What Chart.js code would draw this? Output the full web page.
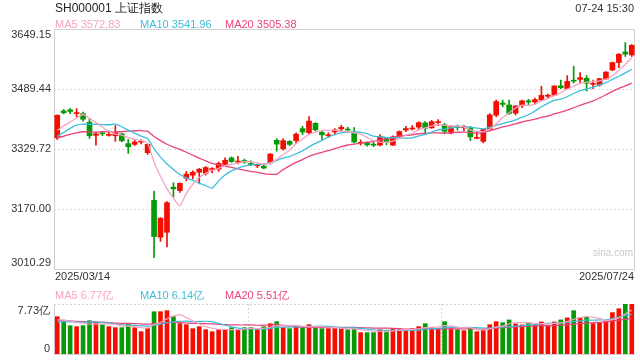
<!DOCTYPE html>
<html><head><meta charset="utf-8">
<script src="https://cdn.jsdelivr.net/npm/chart.js@4/dist/chart.umd.min.js"></script>
<style>
html,body{margin:0;padding:0;background:#fff;}
#wrap{position:relative;width:640px;height:360px;overflow:hidden;font-family:"Liberation Sans",Arial,sans-serif;}
canvas{position:absolute;left:0;top:0;}
.t{position:absolute;white-space:nowrap;font-size:11px;line-height:12px;}
</style></head><body>
<div id="wrap">
<canvas id="main" width="640" height="360"></canvas>
<canvas id="vol" width="640" height="360"></canvas>
<div class="t" style="left:55px;top:2px;font-size:12px;line-height:13px;color:#222">SH000001 上证指数</div>
<div class="t" style="right:6px;top:2px;color:#333">07-24 15:30</div>
<div class="t" id="l5" style="left:55px;top:18px;color:#f7a3c2"></div>
<div class="t" id="l10" style="left:140px;top:18px;color:#3cbfdc"></div>
<div class="t" id="l20" style="left:225px;top:18px;color:#e8447c"></div>
<div class="t" id="v5" style="left:55px;top:289px;color:#f7a3c2"></div>
<div class="t" id="v10" style="left:140px;top:289px;color:#3cbfdc"></div>
<div class="t" id="v20" style="left:225px;top:289px;color:#e8447c"></div>
<div class="t" style="right:7px;top:247px;font-size:10px;color:#c9c9c9">sina.com</div>
</div>
<script>
const dates = ["2025/03/14","2025/03/17","2025/03/18","2025/03/19","2025/03/20","2025/03/21","2025/03/24","2025/03/25","2025/03/26","2025/03/27","2025/03/28","2025/03/31",
"2025/04/01","2025/04/02","2025/04/03","2025/04/07","2025/04/08","2025/04/09","2025/04/10","2025/04/11","2025/04/14","2025/04/15","2025/04/16","2025/04/17","2025/04/18","2025/04/21","2025/04/22","2025/04/23","2025/04/24","2025/04/25","2025/04/28","2025/04/29","2025/04/30",
"2025/05/06","2025/05/07","2025/05/08","2025/05/09","2025/05/12","2025/05/13","2025/05/14","2025/05/15","2025/05/16","2025/05/19","2025/05/20","2025/05/21","2025/05/22","2025/05/23","2025/05/26","2025/05/27","2025/05/28","2025/05/29","2025/05/30",
"2025/06/03","2025/06/04","2025/06/05","2025/06/06","2025/06/09","2025/06/10","2025/06/11","2025/06/12","2025/06/13","2025/06/16","2025/06/17","2025/06/18","2025/06/19","2025/06/20","2025/06/23","2025/06/24","2025/06/25","2025/06/26","2025/06/27","2025/06/30",
"2025/07/01","2025/07/02","2025/07/03","2025/07/04","2025/07/07","2025/07/08","2025/07/09","2025/07/10","2025/07/11","2025/07/14","2025/07/15","2025/07/16","2025/07/17","2025/07/18","2025/07/21","2025/07/22","2025/07/23","2025/07/24"];

const openP = [3359.5,3431,3434,3424,3424,3401,3366,3372,3366,3365,3370,3344,3342,3348,3320,3193,3095,3108,3228,3219,
3252,3260,3268,3265,3275,3276,3289,3306,3295,3299,3291,3285,3284,3293,3353,3330,3350,3352,3384,3373,
3398,3374,3365,3375,3383,3382,3373,3345,3346,3342,3340,3358,3340,3362,3380,3383,3388,3399,3386,3400,
3394,3372,3390,3386,3386,3358,3350,3382,3420,3452,3447,3425,3446,3458,3455,3460,3470,3473,3498,3490,
3512,3515,3518,3502,3500,3516,3540,3560,3588,3580];
const highP = [3420.7,3435,3437,3437,3428,3409,3374,3376,3378,3392,3372,3355,3355,3354,3343,3218,3147,3190,3240,3240,
3270,3272,3278,3283,3280,3295,3306,3309,3310,3303,3298,3290,3290,3318,3357,3357,3352,3373,3390,3416,
3400,3377,3373,3384,3393,3388,3387,3354,3349,3348,3368,3360,3365,3378,3390,3392,3402,3403,3406,3408,
3398,3392,3394,3393,3390,3375,3383,3424,3460,3460,3460,3445,3460,3462,3465,3497,3476,3498,3513,3525,
3550,3533,3525,3513,3518,3536,3561,3584,3613,3608];
const lowP = [3355,3423,3424,3415,3404,3358,3340,3365,3364,3350,3349,3318,3339,3343,3315,3040.69,3084,3069,3202,3214,
3245,3250,3237,3260,3266,3270,3288,3294,3290,3292,3286,3280,3277,3290,3324,3327,3338,3345,3368,3369,
3378,3355,3360,3370,3378,3374,3346,3340,3337,3336,3338,3341,3339,3358,3376,3380,3380,3371,3385,3392,
3370,3370,3380,3378,3352,3357,3346,3380,3415,3442,3422,3420,3440,3448,3450,3458,3465,3472,3490,3490,
3505,3504,3484,3490,3497,3514,3538,3546,3576,3576];
const closeP = [3419.56,3426.13,3429.76,3426.43,3408.95,3364.83,3370.03,3369.98,3368.70,3373.75,3351.31,3335.75,3348.44,3350.13,3342.01,3096.58,3145.55,3186.81,3223.64,3238.23,
3262.81,3267.66,3276.00,3280.34,3276.73,3291.43,3299.76,3296.36,3297.29,3295.06,3288.41,3286.65,3279.03,3316.11,3342.67,3352.00,3342.00,3369.24,3374.87,3403.95,
3380.82,3367.46,3367.58,3380.48,3387.57,3380.19,3348.37,3346.84,3340.69,3339.93,3363.45,3347.49,3361.98,3376.20,3384.10,3385.36,3399.77,3384.82,3402.32,3402.66,
3377.00,3388.73,3386.96,3388.81,3362.11,3359.90,3381.58,3420.57,3455.97,3448.45,3424.23,3444.43,3457.75,3454.79,3461.15,3472.32,3473.13,3497.48,3493.05,3509.68,
3510.18,3519.65,3505.00,3503.78,3516.83,3534.48,3559.79,3581.86,3582.30,3605.73];
const prevCloses = [3355.83,3324.49,3351.54,3350.78,3379.11,3373.03,3346.04,3380.21,3388.06,3320.90,3316.93,3324.21,3341.96,3381.10,3372.55,3366.16,3379.83,3371.92,3358.73];

const volumes = [5.77,5.05,4.38,4.23,4.38,5.15,4.90,4.53,4.23,4.07,4.07,4.69,4.07,3.45,3.92,6.54,6.54,6.70,5.77,4.69,
4.53,3.92,4.23,3.76,3.45,3.76,3.76,4.07,3.76,4.07,4.07,3.76,4.23,4.69,5.00,4.07,3.92,4.38,4.07,4.53,4.23,
3.92,3.92,3.92,3.92,3.76,3.92,3.30,3.30,3.30,3.76,3.61,3.92,3.76,3.76,3.92,4.23,4.69,4.07,3.92,5.00,3.92,3.76,3.61,4.07,3.45,3.76,4.53,5.00,4.84,
5.27,4.65,4.50,4.81,4.50,4.96,4.35,4.96,5.27,5.58,
6.7,5.6,5.7,4.7,4.8,5.0,6.4,7.0,7.73,7.73];
const prevVolumes = [5.6,5.4,5.8,5.2,5.5,5.3,5.6,5.7,5.4,5.3,4.6,4.5,4.7,4.6,4.6,5.3,5.1,5.2,5.1];

const priceTicks = [3010.29,3170.00,3329.72,3489.44,3649.15];
const volTicks = [0,7.73];

const UP='#f20e00', DOWN='#079a07';
const C5='#f7a3c2', C10='#3cbfdc', C20='#e8447c';

function movAvg(prev, cur, n){
  const all = prev.concat(cur), off = prev.length;
  return cur.map((_,i)=>{let s=0;for(let k=0;k<n;k++) s+=all[off+i-k];return s/n;});
}
const ma5=movAvg(prevCloses,closeP,5), ma10=movAvg(prevCloses,closeP,10), ma20=movAvg(prevCloses,closeP,20);
const vma5=movAvg(prevVolumes,volumes,5), vma10=movAvg(prevVolumes,volumes,10), vma20=movAvg(prevVolumes,volumes,20);
const colors = closeP.map((c,i)=> c>=openP[i]?UP:DOWN);
const last=dates.length-1;
document.getElementById('l5').textContent='MA5 '+ma5[last].toFixed(2);
document.getElementById('l10').textContent='MA10 '+ma10[last].toFixed(2);
document.getElementById('l20').textContent='MA20 '+ma20[last].toFixed(2);
document.getElementById('v5').textContent='MA5 '+vma5[last].toFixed(2)+'亿';
document.getElementById('v10').textContent='MA10 '+vma10[last].toFixed(2)+'亿';
document.getElementById('v20').textContent='MA20 '+vma20[last].toFixed(2)+'亿';

const FONT='11px "Liberation Sans", Arial, sans-serif';

const mainDeco = {
  id:'mainDeco',
  beforeDatasetsDraw(chart){
    const ctx=chart.ctx, a=chart.chartArea, s=chart.scales.y;
    ctx.save();
    ctx.strokeStyle='#dcdcdc'; ctx.lineWidth=1; ctx.setLineDash([2,2]);
    priceTicks.slice(1,-1).forEach(v=>{
      const y=Math.round(s.getPixelForValue(v))+0.5;
      ctx.beginPath(); ctx.moveTo(a.left,y); ctx.lineTo(a.right,y); ctx.stroke();
    });
    ctx.setLineDash([]);
    ctx.strokeStyle='#d0d0d0';
    ctx.strokeRect(a.left+0.5,a.top+0.5,a.right-a.left-1,a.bottom-a.top);
    ctx.restore();
  },
  afterDraw(chart){
    const ctx=chart.ctx, a=chart.chartArea, s=chart.scales.y;
    ctx.save(); ctx.font=FONT; ctx.fillStyle='#333'; ctx.textAlign='right'; ctx.textBaseline='middle';
    priceTicks.forEach((v,i)=>{
      let y=s.getPixelForValue(v);
      if(i===0) y-=6; else if(i===priceTicks.length-1) y+=6;
      ctx.fillText(v.toFixed(2), a.left-3, y);
    });
    ctx.textAlign='left'; ctx.fillText(dates[0], a.left+1, a.bottom+8);
    ctx.textAlign='right'; ctx.fillText(dates[last], a.right-1, a.bottom+8);
    ctx.restore();
  }
};

new Chart(document.getElementById('main'), {
  type:'bar',
  data:{labels:dates, datasets:[
    {type:'line',data:ma5,borderColor:C5,borderWidth:1.3,pointRadius:0,tension:0.15,order:0},
    {type:'line',data:ma10,borderColor:C10,borderWidth:1.3,pointRadius:0,tension:0.15,order:0},
    {type:'line',data:ma20,borderColor:C20,borderWidth:1.3,pointRadius:0,tension:0.15,order:0},
    {data:dates.map((d,i)=>[openP[i],closeP[i]]),backgroundColor:colors,barThickness:5,grouped:false,minBarLength:1,order:1},
    {data:dates.map((d,i)=>[lowP[i],highP[i]]),backgroundColor:colors,barThickness:1,grouped:false,order:2}
  ]},
  options:{
    responsive:false, animation:false, events:[],
    layout:{padding:{left:0,top:29,right:5,bottom:91}},
    plugins:{legend:{display:false},tooltip:{enabled:false}},
    scales:{
      x:{display:false,offset:true},
      y:{min:priceTicks[0],max:priceTicks[priceTicks.length-1],
         afterFit(sc){sc.width=54;},
         ticks:{display:false}, grid:{display:false}, border:{display:false}}
    }
  },
  plugins:[mainDeco]
});

const volDeco = {
  id:'volDeco',
  beforeDatasetsDraw(chart){
    const ctx=chart.ctx, a=chart.chartArea;
    ctx.save(); ctx.lineWidth=1;
    ctx.strokeStyle='#d6d6d6'; ctx.setLineDash([2,2]);
    ctx.beginPath(); ctx.moveTo(a.left,a.top+0.5); ctx.lineTo(a.right,a.top+0.5); ctx.stroke();
    [1,2].forEach(k=>{
      const x=Math.round(a.left+(a.right-a.left)*k/3)+0.5;
      ctx.beginPath(); ctx.moveTo(x,a.top); ctx.lineTo(x,a.bottom); ctx.stroke();
    });
    ctx.setLineDash([]); ctx.strokeStyle='#d0d0d0';
    ctx.beginPath(); ctx.moveTo(a.left+0.5,a.top); ctx.lineTo(a.left+0.5,a.bottom+0.5); ctx.lineTo(a.right,a.bottom+0.5); ctx.stroke();
    ctx.restore();
  },
  afterDraw(chart){
    const ctx=chart.ctx, a=chart.chartArea, s=chart.scales.y;
    ctx.save(); ctx.font=FONT; ctx.fillStyle='#333'; ctx.textAlign='right'; ctx.textBaseline='middle';
    ctx.fillText(volTicks[1].toFixed(2)+'亿', a.left-4, s.getPixelForValue(volTicks[1])+7);
    ctx.fillText(String(volTicks[0]), a.left-4, s.getPixelForValue(volTicks[0])-5);
    ctx.restore();
  }
};

new Chart(document.getElementById('vol'), {
  type:'bar',
  data:{labels:dates, datasets:[
    {type:'line',data:vma5,borderColor:C5,borderWidth:1.2,pointRadius:0,tension:0.3,order:0},
    {type:'line',data:vma10,borderColor:C10,borderWidth:1.2,pointRadius:0,tension:0.3,order:0},
    {type:'line',data:vma20,borderColor:C20,borderWidth:1.2,pointRadius:0,tension:0.3,order:0},
    {data:volumes,backgroundColor:colors,barThickness:4,grouped:false,order:1}
  ]},
  options:{
    responsive:false, animation:false, events:[],
    layout:{padding:{left:0,top:304,right:5,bottom:6}},
    plugins:{legend:{display:false},tooltip:{enabled:false}},
    scales:{
      x:{display:false,offset:true},
      y:{min:volTicks[0],max:volTicks[1],
         afterFit(sc){sc.width=54;},
         ticks:{display:false}, grid:{display:false}, border:{display:false}}
    }
  },
  plugins:[volDeco]
});
</script>
</body></html>
